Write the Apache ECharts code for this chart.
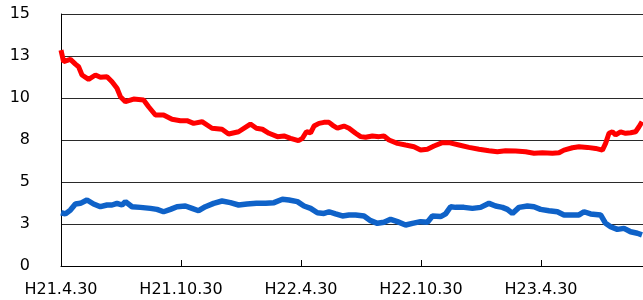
<!DOCTYPE html>
<html>
<head>
<meta charset="utf-8">
<script src="https://cdn.jsdelivr.net/npm/echarts@6/dist/echarts.min.js"></script>
<style>html,body{margin:0;padding:0;background:#fff;overflow:hidden;}#c{width:643px;height:300px;}</style>
</head>
<body>
<div id="c"></div>
<script>
// x: months elapsed since H21.4.30
var xTickLabels = ['H21.4.30', 'H21.10.30', 'H22.4.30', 'H22.10.30', 'H23.4.30'];
var yTickLabels = ['0', '3', '5', '8', '10', '13', '15'];

var redMonths = [0,0.13,0.47,0.72,0.88,1.05,1.38,1.72,1.97,2.30,2.55,2.80,2.97,3.22,3.63,4.13,4.38,4.72,5.13,5.55,5.97,6.30,6.63,7.05,7.55,8.05,8.38,8.88,9.47,9.77,10.07,10.40,10.82,11.15,11.48,11.87,12.07,12.27,12.48,12.65,12.90,13.15,13.40,13.57,13.82,14.15,14.40,14.73,14.98,15.23,15.57,15.90,16.15,16.40,16.82,17.23,17.65,17.98,18.32,18.65,19.07,19.40,19.90,20.40,20.90,21.40,21.82,22.23,22.73,23.23,23.65,24.07,24.57,24.90,25.15,25.57,25.90,26.32,26.73,27.07,27.23,27.40,27.57,27.73,27.98,28.23,28.48,28.73,28.90,29.05];
var redValues = [12.85,12.16,12.30,12.02,11.86,11.37,11.11,11.37,11.23,11.27,10.97,10.58,10.08,9.78,9.94,9.88,9.48,8.99,8.99,8.73,8.65,8.65,8.49,8.59,8.20,8.14,7.86,7.99,8.45,8.20,8.14,7.90,7.70,7.74,7.60,7.46,7.60,7.99,7.93,8.33,8.49,8.55,8.55,8.39,8.20,8.33,8.20,7.90,7.70,7.66,7.74,7.70,7.74,7.50,7.30,7.20,7.10,6.90,6.95,7.14,7.34,7.34,7.20,7.06,6.95,6.86,6.80,6.86,6.85,6.80,6.71,6.74,6.71,6.74,6.90,7.04,7.10,7.06,7.00,6.90,7.30,7.90,7.99,7.80,7.99,7.90,7.93,7.99,8.29,8.59];

var blueMonths = [0,0.22,0.47,0.72,0.97,1.30,1.63,1.97,2.30,2.55,2.80,3.05,3.22,3.55,3.97,4.47,4.80,5.13,5.47,5.80,6.22,6.55,6.88,7.22,7.63,8.05,8.47,8.88,9.30,9.77,10.23,10.65,11.07,11.40,11.82,12.15,12.48,12.82,13.15,13.40,13.73,14.07,14.40,14.73,15.15,15.48,15.82,16.15,16.48,16.82,17.23,17.57,17.98,18.32,18.57,18.98,19.23,19.48,19.73,20.15,20.57,20.98,21.40,21.73,22.07,22.32,22.57,22.90,23.32,23.65,23.98,24.40,24.82,25.15,25.57,25.90,26.15,26.48,26.98,27.23,27.48,27.82,28.15,28.48,28.82,29.05];
var blueValues = [3.17,3.10,3.33,3.69,3.73,3.93,3.69,3.53,3.63,3.63,3.73,3.63,3.83,3.53,3.49,3.43,3.37,3.23,3.37,3.53,3.57,3.43,3.29,3.53,3.73,3.87,3.77,3.63,3.69,3.73,3.73,3.77,3.97,3.93,3.83,3.57,3.43,3.17,3.13,3.23,3.10,2.98,3.04,3.04,2.98,2.70,2.54,2.60,2.78,2.64,2.44,2.54,2.64,2.60,2.98,2.94,3.10,3.53,3.49,3.49,3.43,3.49,3.73,3.57,3.49,3.37,3.13,3.49,3.57,3.53,3.37,3.29,3.23,3.04,3.04,3.04,3.23,3.10,3.04,2.54,2.34,2.18,2.24,2.04,1.95,1.85];

function zip(xs, ys) { return xs.map(function (x, i) { return [x, ys[i]]; }); }

var chart = echarts.init(document.getElementById('c'), null, {renderer: 'canvas'});
chart.setOption({
  animation: false,
  backgroundColor: '#ffffff',
  grid: {left: 61, right: 0, top: 14, bottom: 34, containLabel: false},
  xAxis: {
    type: 'value', min: 0, max: 29.1, interval: 6,
    axisLine: {show: true, lineStyle: {color: '#000', width: 1}},
    axisTick: {show: true, inside: true, length: 6, lineStyle: {color: '#000'}},
    splitLine: {show: false},
    axisLabel: {
      margin: 16, color: '#000', fontFamily: 'DejaVu Sans', fontSize: 16,
      showMaxLabel: false,
      formatter: function (v) { var k = Math.round(v / 6); return (Math.abs(v - k * 6) < 1e-6 && xTickLabels[k]) ? xTickLabels[k] : ''; }
    }
  },
  yAxis: {
    type: 'value', min: 0, max: 15, interval: 2.5,
    axisLine: {show: true, lineStyle: {color: '#000', width: 1}},
    axisTick: {show: false},
    splitLine: {show: true, lineStyle: {color: '#2a2a2a', width: 1}},
    axisLabel: {
      margin: 31, color: '#000', fontFamily: 'DejaVu Sans', fontSize: 16,
      formatter: function (v) { var k = Math.round(v / 2.5); return yTickLabels[k] || ''; }
    }
  },
  series: [
    {type: 'line', data: zip(redMonths, redValues), symbol: 'none', smooth: false,
     lineStyle: {color: '#ff0000', width: 5}, z: 3},
    {type: 'line', data: zip(blueMonths, blueValues), symbol: 'none', smooth: false,
     lineStyle: {color: '#0f62c8', width: 5.5}, z: 2}
  ]
});
</script>
</body>
</html>
